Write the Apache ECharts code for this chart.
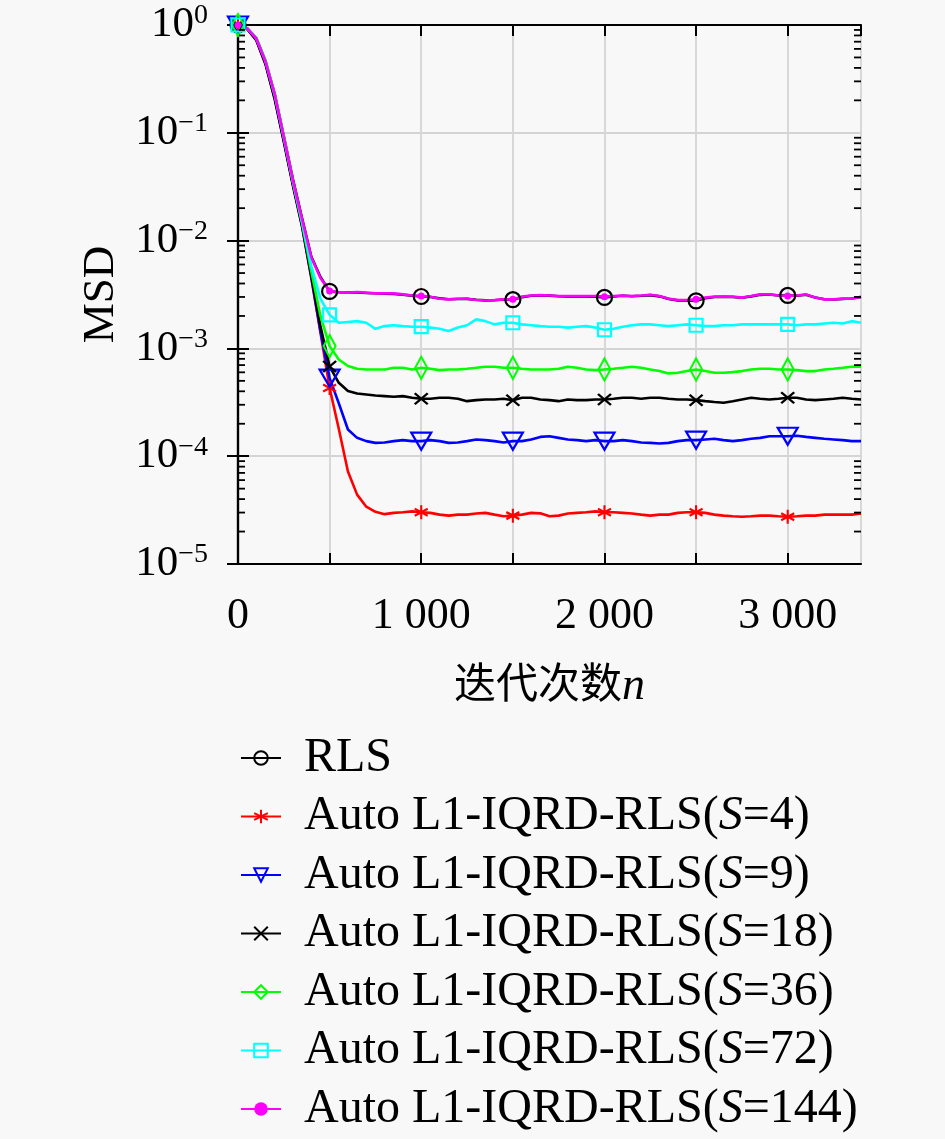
<!DOCTYPE html>
<html>
<head>
<meta charset="utf-8">
<script src="https://cdn.jsdelivr.net/npm/echarts@6/dist/echarts.min.js"></script>
<style>
  html, body { margin: 0; padding: 0; background: #f8f8f8; }
  #chart { width: 945px; height: 1139px; }
</style>
</head>
<body>
<div id="chart"></div>
<script>
const iterations = [
    0, 50, 100, 150, 200, 250, 300, 350, 400, 450,
    500, 550, 600, 650, 700, 750, 800, 850, 900, 950,
    1000, 1050, 1100, 1150, 1200, 1250, 1300, 1350, 1400, 1450,
    1500, 1550, 1600, 1650, 1700, 1750, 1800, 1850, 1900, 1950,
    2000, 2050, 2100, 2150, 2200, 2250, 2300, 2350, 2400, 2450,
    2500, 2550, 2600, 2650, 2700, 2750, 2800, 2850, 2900, 2950,
    3000, 3050, 3100, 3150, 3200, 3250, 3300, 3350, 3400
];

const msdRLS = [
    1.0, 0.93, 0.75, 0.46, 0.23, 0.093, 0.037, 0.0160, 7.1e-3, 4.6e-3,
    3.38e-3, 3.32e-3, 3.30e-3, 3.31e-3, 3.27e-3, 3.25e-3, 3.22e-3, 3.20e-3, 3.15e-3, 3.09e-3,
    3.03e-3, 3.00e-3, 2.91e-3, 2.86e-3, 2.87e-3, 2.88e-3, 2.83e-3, 2.79e-3, 2.80e-3, 2.84e-3,
    2.83e-3, 2.99e-3, 3.08e-3, 3.10e-3, 3.09e-3, 3.05e-3, 3.04e-3, 3.05e-3, 3.03e-3, 3.02e-3,
    2.97e-3, 3.03e-3, 3.08e-3, 3.05e-3, 3.08e-3, 3.12e-3, 3.04e-3, 2.88e-3, 2.79e-3, 2.78e-3,
    2.76e-3, 2.92e-3, 3.00e-3, 3.01e-3, 3.00e-3, 2.95e-3, 3.04e-3, 3.14e-3, 3.16e-3, 3.10e-3,
    3.10e-3, 3.08e-3, 3.14e-3, 2.97e-3, 2.86e-3, 2.84e-3, 2.88e-3, 2.90e-3, 3.00e-3
];

const msdS4 = [
    1.0, 0.92, 0.72, 0.43, 0.205, 0.082, 0.032, 0.0133, 4.5e-3, 1.4e-3,
    4.3e-4, 1.8e-4, 7.2e-5, 4.4e-5, 3.4e-5, 3.05e-5, 2.9e-5, 2.98e-5, 3.02e-5, 3.08e-5,
    3.02e-5, 2.98e-5, 2.87e-5, 2.81e-5, 2.87e-5, 2.87e-5, 2.94e-5, 2.98e-5, 2.87e-5, 2.77e-5,
    2.81e-5, 2.87e-5, 2.98e-5, 2.95e-5, 2.77e-5, 2.81e-5, 2.94e-5, 2.98e-5, 3.02e-5, 3.08e-5,
    3.02e-5, 3.02e-5, 2.98e-5, 2.94e-5, 2.87e-5, 2.81e-5, 2.87e-5, 2.87e-5, 2.98e-5, 3.02e-5,
    3.02e-5, 2.98e-5, 2.87e-5, 2.81e-5, 2.77e-5, 2.74e-5, 2.77e-5, 2.81e-5, 2.81e-5, 2.77e-5,
    2.74e-5, 2.77e-5, 2.81e-5, 2.81e-5, 2.87e-5, 2.87e-5, 2.87e-5, 2.87e-5, 2.94e-5
];

const msdS9 = [
    1.0, 0.92, 0.73, 0.44, 0.21, 0.084, 0.033, 0.0136, 4.6e-3, 1.45e-3,
    5.3e-4, 3.1e-4, 1.77e-4, 1.48e-4, 1.38e-4, 1.33e-4, 1.34e-4, 1.38e-4, 1.41e-4, 1.38e-4,
    1.38e-4, 1.41e-4, 1.38e-4, 1.33e-4, 1.34e-4, 1.38e-4, 1.43e-4, 1.41e-4, 1.38e-4, 1.34e-4,
    1.38e-4, 1.38e-4, 1.43e-4, 1.51e-4, 1.53e-4, 1.48e-4, 1.43e-4, 1.41e-4, 1.38e-4, 1.41e-4,
    1.38e-4, 1.38e-4, 1.41e-4, 1.38e-4, 1.34e-4, 1.33e-4, 1.31e-4, 1.33e-4, 1.38e-4, 1.41e-4,
    1.41e-4, 1.43e-4, 1.45e-4, 1.41e-4, 1.38e-4, 1.41e-4, 1.45e-4, 1.48e-4, 1.53e-4, 1.53e-4,
    1.53e-4, 1.55e-4, 1.51e-4, 1.48e-4, 1.45e-4, 1.43e-4, 1.41e-4, 1.38e-4, 1.38e-4
];

const msdS18 = [
    1.0, 0.92, 0.73, 0.44, 0.21, 0.085, 0.033, 0.0138, 4.8e-3, 1.6e-3,
    6.8e-4, 4.8e-4, 4.02e-4, 3.82e-4, 3.74e-4, 3.66e-4, 3.61e-4, 3.56e-4, 3.61e-4, 3.48e-4,
    3.41e-4, 3.41e-4, 3.48e-4, 3.48e-4, 3.41e-4, 3.24e-4, 3.31e-4, 3.36e-4, 3.36e-4, 3.41e-4,
    3.31e-4, 3.48e-4, 3.48e-4, 3.36e-4, 3.31e-4, 3.24e-4, 3.36e-4, 3.31e-4, 3.31e-4, 3.36e-4,
    3.36e-4, 3.41e-4, 3.48e-4, 3.48e-4, 3.41e-4, 3.48e-4, 3.48e-4, 3.41e-4, 3.36e-4, 3.36e-4,
    3.31e-4, 3.24e-4, 3.18e-4, 3.13e-4, 3.24e-4, 3.36e-4, 3.48e-4, 3.41e-4, 3.36e-4, 3.41e-4,
    3.48e-4, 3.48e-4, 3.36e-4, 3.31e-4, 3.36e-4, 3.41e-4, 3.48e-4, 3.41e-4, 3.36e-4
];

const msdS36 = [
    1.0, 0.94, 0.76, 0.47, 0.23, 0.092, 0.035, 0.0145, 5.2e-3, 2.0e-3,
    1.05e-3, 7.9e-4, 6.86e-4, 6.47e-4, 6.38e-4, 6.38e-4, 6.38e-4, 6.61e-4, 6.61e-4, 6.38e-4,
    6.61e-4, 6.47e-4, 6.29e-4, 6.38e-4, 6.38e-4, 6.47e-4, 6.61e-4, 6.76e-4, 6.76e-4, 6.61e-4,
    6.61e-4, 6.47e-4, 6.38e-4, 6.38e-4, 6.38e-4, 6.47e-4, 6.76e-4, 6.61e-4, 6.38e-4, 6.29e-4,
    6.38e-4, 6.47e-4, 6.61e-4, 6.76e-4, 6.61e-4, 6.38e-4, 6.16e-4, 5.86e-4, 5.94e-4, 6.16e-4,
    6.38e-4, 6.16e-4, 5.94e-4, 5.94e-4, 6.03e-4, 6.16e-4, 6.38e-4, 6.47e-4, 6.47e-4, 6.38e-4,
    6.38e-4, 6.29e-4, 6.16e-4, 6.16e-4, 6.38e-4, 6.47e-4, 6.61e-4, 6.76e-4, 6.76e-4
];

const msdS72 = [
    1.0, 0.93, 0.75, 0.46, 0.225, 0.09, 0.035, 0.0148, 5.8e-3, 2.9e-3,
    2.05e-3, 1.73e-3, 1.76e-3, 1.79e-3, 1.73e-3, 1.52e-3, 1.61e-3, 1.64e-3, 1.61e-3, 1.59e-3,
    1.59e-3, 1.56e-3, 1.52e-3, 1.45e-3, 1.56e-3, 1.64e-3, 1.86e-3, 1.79e-3, 1.67e-3, 1.73e-3,
    1.73e-3, 1.67e-3, 1.64e-3, 1.61e-3, 1.59e-3, 1.59e-3, 1.56e-3, 1.59e-3, 1.61e-3, 1.56e-3,
    1.49e-3, 1.52e-3, 1.59e-3, 1.64e-3, 1.67e-3, 1.67e-3, 1.64e-3, 1.61e-3, 1.64e-3, 1.67e-3,
    1.64e-3, 1.61e-3, 1.61e-3, 1.64e-3, 1.64e-3, 1.67e-3, 1.67e-3, 1.67e-3, 1.67e-3, 1.67e-3,
    1.67e-3, 1.64e-3, 1.67e-3, 1.67e-3, 1.70e-3, 1.73e-3, 1.70e-3, 1.79e-3, 1.73e-3
];

const msdS144 = [
    1.0, 0.93, 0.75, 0.46, 0.23, 0.092, 0.036, 0.0158, 7.0e-3, 4.5e-3,
    3.40e-3, 3.34e-3, 3.29e-3, 3.34e-3, 3.29e-3, 3.24e-3, 3.24e-3, 3.24e-3, 3.17e-3, 3.10e-3,
    3.06e-3, 3.02e-3, 2.89e-3, 2.85e-3, 2.89e-3, 2.89e-3, 2.81e-3, 2.78e-3, 2.81e-3, 2.85e-3,
    2.85e-3, 3.02e-3, 3.10e-3, 3.12e-3, 3.10e-3, 3.06e-3, 3.06e-3, 3.06e-3, 3.06e-3, 3.06e-3,
    3.02e-3, 3.06e-3, 3.10e-3, 3.06e-3, 3.10e-3, 3.15e-3, 3.06e-3, 2.89e-3, 2.81e-3, 2.81e-3,
    2.85e-3, 2.96e-3, 3.02e-3, 3.02e-3, 3.02e-3, 2.96e-3, 3.06e-3, 3.17e-3, 3.17e-3, 3.10e-3,
    3.06e-3, 3.10e-3, 3.17e-3, 2.96e-3, 2.85e-3, 2.85e-3, 2.89e-3, 2.89e-3, 3.02e-3
];

// log minor ticks (2..9 in each decade)
const minorTickValues = [
    2e-5, 3e-5, 4e-5, 5e-5, 6e-5, 7e-5, 8e-5, 9e-5,
    2e-4, 3e-4, 4e-4, 5e-4, 6e-4, 7e-4, 8e-4, 9e-4,
    2e-3, 3e-3, 4e-3, 5e-3, 6e-3, 7e-3, 8e-3, 9e-3,
    2e-2, 3e-2, 4e-2, 5e-2, 6e-2, 7e-2, 8e-2, 9e-2,
    0.2, 0.3, 0.4, 0.5, 0.6, 0.7, 0.8, 0.9
];

const X_MIN = 0;
const X_MAX = 3400;

const FONT = '"Liberation Serif", "Noto Sans CJK SC", serif';
const MARK_STEP = 500;
const MARK_LAST = 3000;
const MINOR_LEN = 7;

const chart = echarts.init(document.getElementById('chart'));

function makeSeries(name, values, color, symbol, symbolSize, filled) {
    const data = iterations.map((n, i) => {
        const point = [n, values[i]];
        return (n % MARK_STEP === 0 && n <= MARK_LAST) ? point : { value: point, symbol: 'none' };
    });
    return {
        name: name,
        type: 'line',
        data: data,
        symbol: symbol,
        symbolSize: symbolSize,
        showAllSymbol: true,
        clip: false,
        lineStyle: { color: color, width: 2.6 },
        itemStyle: {
            color: filled ? color : 'rgba(0,0,0,0)',
            borderColor: color,
            borderWidth: filled ? 0 : 2.2
        },
        emphasis: { disabled: true },
        z: 3
    };
}

// minor tick marks: short strokes from each vertical axis inward, drawn on an upper layer
function minorTickSeries() {
    return {
        type: 'custom',
        silent: true,
        clip: false,
        zlevel: 1,
        z: 20,
        data: minorTickValues.map((v) => [X_MIN, v]),
        renderItem: (params, api) => {
            const left = api.coord([X_MIN, api.value(1)]);
            const right = api.coord([X_MAX, api.value(1)]);
            const style = () => ({ stroke: '#000', lineWidth: 1.8, fill: null });
            return {
                type: 'group',
                children: [
                    { type: 'polyline', shape: { points: [[left[0] + 1, left[1]], [left[0] + MINOR_LEN, left[1]]] }, style: style() },
                    { type: 'polyline', shape: { points: [[right[0] - MINOR_LEN, right[1]], [right[0], right[1]]] }, style: style() }
                ]
            };
        }
    };
}

const triangleDown = 'path://M0,0 L2,0 L1,1.7 Z';
const asterisk = 'path://M1,0 L1,2 M0.134,0.5 L1.866,1.5 M0.134,1.5 L1.866,0.5';
const cross = 'path://M0,0 L2,2 M0,2 L2,0';

const seriesList = [
    makeSeries('RLS', msdRLS, '#000000', 'circle', 15, false),
    makeSeries('Auto L1-IQRD-RLS(S=4)', msdS4, '#ff0000', asterisk, [13, 14], false),
    makeSeries('Auto L1-IQRD-RLS(S=9)', msdS9, '#0000ff', triangleDown, [20, 17], false),
    makeSeries('Auto L1-IQRD-RLS(S=18)', msdS18, '#000000', cross, [13, 11], false),
    makeSeries('Auto L1-IQRD-RLS(S=36)', msdS36, '#00ff00', 'diamond', [12, 22], false),
    makeSeries('Auto L1-IQRD-RLS(S=72)', msdS72, '#00ffff', 'rect', 13, false),
    makeSeries('Auto L1-IQRD-RLS(S=144)', msdS144, '#ff00ff', 'circle', 7, true)
];
const legendNames = seriesList.map((s) => s.name);

seriesList.push(minorTickSeries());

function xLabel(v) {
    if (v % 1000 !== 0) return '';
    return v === 0 ? '0' : (v / 1000) + ' 000';
}

function yLabel(v) {
    const e = Math.round(Math.log10(v));
    return '{b|10}{s|' + (e === 0 ? '0' : '\u2212' + (-e)) + '}';
}

const axisBlack = { lineStyle: { color: '#000', width: 2.2 } };
const tickInside = { show: true, inside: true, length: 11, lineStyle: { color: '#000', width: 2 } };

const option = {
    backgroundColor: '#f8f8f8',
    animation: false,
    grid: { left: 238, right: 84, top: 25, bottom: 575 },
    xAxis: [
        {
            type: 'value',
            min: X_MIN,
            max: X_MAX,
            interval: 500,
            name: '{a|迭代次数}{n|n}',
            nameLocation: 'middle',
            nameGap: 100,
            nameTextStyle: {
                rich: {
                    a: { fontFamily: FONT, fontSize: 42, color: '#000' },
                    n: { fontFamily: FONT, fontSize: 46, fontStyle: 'italic', color: '#000' }
                }
            },
            axisLine: axisBlack,
            axisTick: tickInside,
            axisLabel: {
                formatter: xLabel,
                margin: 30,
                color: '#000',
                fontFamily: FONT,
                fontSize: 44,
                showMaxLabel: false
            },
            splitLine: { show: true, lineStyle: { color: '#d4d4d4', width: 1.8 } }
        },
        {
            type: 'value',
            position: 'top',
            min: X_MIN,
            max: X_MAX,
            interval: 500,
            axisLine: axisBlack,
            axisTick: tickInside,
            axisLabel: { show: false },
            splitLine: { show: false }
        }
    ],
    yAxis: [
        {
            type: 'log',
            logBase: 10,
            min: 1e-5,
            max: 1,
            name: 'MSD',
            nameLocation: 'middle',
            nameGap: 114,
            nameTextStyle: { fontFamily: FONT, fontSize: 45, color: '#000' },
            axisLine: axisBlack,
            axisTick: tickInside,
            axisLabel: {
                formatter: yLabel,
                margin: 30,
                rich: {
                    b: { fontFamily: FONT, fontSize: 43, color: '#000', lineHeight: 46 },
                    s: { fontFamily: FONT, fontSize: 28, color: '#000', verticalAlign: 'top', lineHeight: 24 }
                }
            },
            splitLine: { show: true, lineStyle: { color: '#d4d4d4', width: 1.8 } }
        },
        {
            type: 'log',
            logBase: 10,
            min: 1e-5,
            max: 1,
            position: 'right',
            axisLine: axisBlack,
            axisTick: tickInside,
            axisLabel: { show: false },
            splitLine: { show: false }
        }
    ],
    legend: {
        data: legendNames,
        orient: 'vertical',
        left: 240,
        top: 733,
        padding: 0,
        itemWidth: 40,
        itemHeight: 17,
        itemGap: 8.5,
        selectedMode: false,
        formatter: (name) => name.replace('S=', '{i|S}='),
        textStyle: {
            fontFamily: FONT,
            fontSize: 48,
            color: '#000',
            lineHeight: 50,
            padding: [0, 0, 0, 18],
            rich: {
                i: { fontFamily: FONT, fontSize: 48, fontStyle: 'italic', color: '#000', lineHeight: 50 }
            }
        }
    },
    series: seriesList
};

chart.setOption(option);
</script>
</body>
</html>
